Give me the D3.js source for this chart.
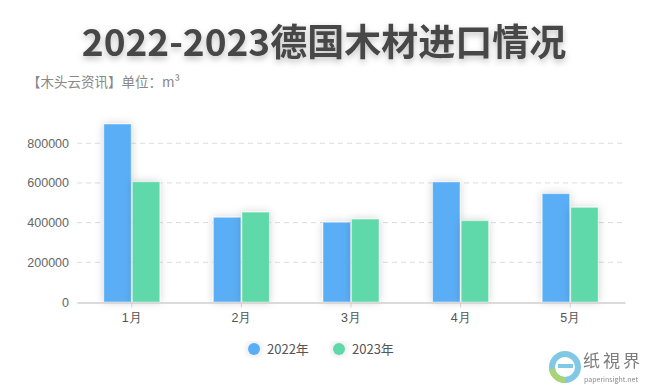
<!DOCTYPE html>
<html>
<head>
<meta charset="utf-8">
<script src="https://cdn.jsdelivr.net/npm/d3@7/dist/d3.min.js"></script>
<style>
  html, body { margin: 0; padding: 0; background: #fff; }
  svg { display: block; font-family: "Noto Sans CJK SC", "Noto Sans", sans-serif; }
</style>
</head>
<body>
<svg id="chart" width="648" height="389"></svg>
<script>
const months = ["1月", "2月", "3月", "4月", "5月"];
const seriesNames = ["2022年", "2023年"];
const values2022 = [897000, 427000, 402000, 605000, 546000];
const values2023 = [606000, 453000, 418000, 410000, 477000];
const yTicks = [0, 200000, 400000, 600000, 800000];
const colors = ["#5aaef6", "#5fd9a9"];

const svg = d3.select("#chart");
const margin = {top: 124, right: 23, bottom: 87, left: 77};
const width = 648 - margin.left - margin.right;
const height = 389 - margin.top - margin.bottom;

const defs = svg.append("defs");
defs.append("filter").attr("id", "barShadow")
    .attr("x", "-30%").attr("y", "-10%").attr("width", "160%").attr("height", "130%")
  .append("feDropShadow")
    .attr("dx", 0).attr("dy", 0).attr("stdDeviation", 4)
    .attr("flood-color", "#000").attr("flood-opacity", 0.18);
defs.append("filter").attr("id", "textShadow")
    .attr("x", "-10%").attr("y", "-30%").attr("width", "120%").attr("height", "160%")
  .append("feDropShadow")
    .attr("dx", 0).attr("dy", 3).attr("stdDeviation", 3)
    .attr("flood-color", "#000").attr("flood-opacity", 0.25);

// title + subtitle
svg.append("text")
    .attr("x", 324).attr("y", 56)
    .attr("text-anchor", "middle")
    .attr("fill", "#464646")
    .attr("font-size", 37)
    .attr("font-weight", "bold")
    .attr("filter", "url(#textShadow)")
    .text("2022-2023德国木材进口情况");

svg.append("text")
    .attr("x", 27).attr("y", 87)
    .attr("fill", "#888")
    .attr("font-size", 13.5)
    .text("【木头云资讯】单位：m³");

const x = d3.scaleBand().domain(months).range([0, width]);
const y = d3.scaleLinear().domain([0, d3.max(values2022.concat(values2023))]).range([height, 0]);
const sub = d3.scaleBand().domain(seriesNames).range([-28, 28]).paddingInner(0.04);

const g = svg.append("g")
    .attr("transform", "translate(" + margin.left + "," + margin.top + ")");

// grid
g.append("g")
  .selectAll("line")
  .data(yTicks.filter(d => d > 0))
  .enter().append("line")
    .attr("x1", 0).attr("x2", width)
    .attr("y1", d => y(d)).attr("y2", d => y(d))
    .attr("stroke", "#dcdcdc")
    .attr("stroke-dasharray", "5,4");

// y labels
g.append("g")
    .call(d3.axisLeft(y).tickValues(yTicks).tickSize(0).tickPadding(8).tickFormat(d3.format("d")))
    .call(a => a.select(".domain").remove())
    .selectAll("text")
    .attr("fill", "#666")
    .attr("font-size", 12.5);

// bars
const series = [values2022, values2023];
series.forEach((vals, i) => {
  g.append("g")
    .selectAll("rect")
    .data(vals)
    .enter().append("rect")
      .attr("x", (d, j) => x(months[j]) + x.bandwidth() / 2 + sub(seriesNames[i]))
      .attr("y", d => y(d))
      .attr("width", sub.bandwidth())
      .attr("height", d => height - y(d))
      .attr("fill", colors[i])
      .attr("stroke", "rgba(255,255,255,0.45)")
      .attr("stroke-width", 1)
      .attr("filter", "url(#barShadow)");
});

// x axis
const xAxis = g.append("g")
    .attr("transform", "translate(0," + (height + 0.5) + ")")
    .call(d3.axisBottom(x).tickSize(5).tickPadding(6).tickSizeOuter(0));
xAxis.select(".domain").attr("stroke", "#cfcfcf").attr("stroke-width", 1.5);
xAxis.selectAll(".tick line").attr("stroke", "#cfcfcf");
xAxis.selectAll("text").attr("fill", "#555").attr("font-size", 12.5);

// legend
const legend = svg.append("g").attr("transform", "translate(254,349)");
const lx = [0, 85];
seriesNames.forEach((name, i) => {
  const item = legend.append("g").attr("transform", "translate(" + lx[i] + ",0)");
  item.append("circle").attr("r", 6).attr("fill", colors[i]).attr("filter", "url(#barShadow)");
  item.append("text").attr("x", 13).attr("y", 5)
      .attr("fill", "#555").attr("font-size", 13).text(name);
});

// watermark
const wm = svg.append("g").attr("transform", "translate(565,367)").attr("opacity", 0.85);
wm.append("circle").attr("r", 13).attr("fill", "none").attr("stroke", "#6cbfe0").attr("stroke-width", 6);
wm.append("path").attr("d", "M-13,2 A13,13 0 0 0 0,13").attr("fill", "none").attr("stroke", "#9ccc5c").attr("stroke-width", 6);
wm.append("path").attr("d", "M-7,-1 L8,-1").attr("stroke", "#6cbfe0").attr("stroke-width", 4);
wm.append("text").attr("x", 18).attr("y", 0).attr("fill", "#666")
    .attr("font-size", 17).attr("letter-spacing", 3).text("纸視界");
wm.append("text").attr("x", 19).attr("y", 15).attr("fill", "#777")
    .attr("font-size", 7).text("paperinsight.net");
</script>
</body>
</html>
